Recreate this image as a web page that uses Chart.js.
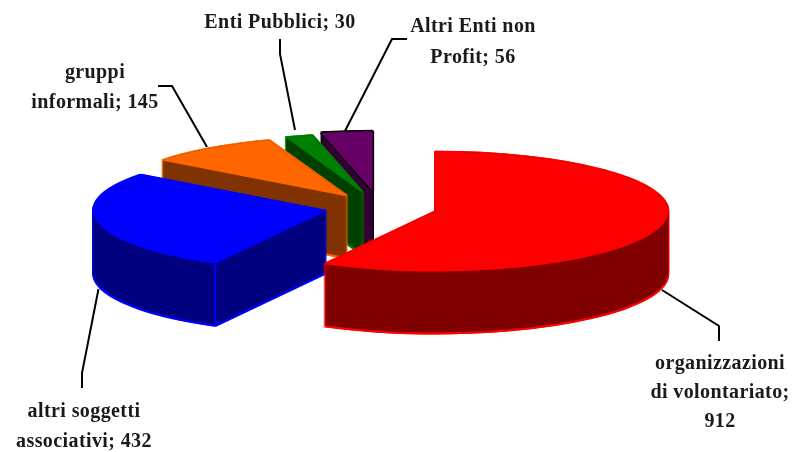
<!DOCTYPE html>
<html><head><meta charset="utf-8">
<style>html,body{margin:0;padding:0;background:#fff}canvas{display:block}</style>
<script src="https://cdn.jsdelivr.net/npm/chart.js@4"></script>
</head><body>
<canvas id="c" width="792" height="452"></canvas>
<script>
const categories = ['organizzazioni\ndi volontariato','altri soggetti\nassociativi','gruppi\ninformali','Enti Pubblici','Altri Enti non\nProfit'];
const values = [912,432,145,30,56];
const valueSeparators = [';\n','; ','; ','; ','; '];
const topColors = ['#FF0000','#0000FF','#FF6600','#008000','#660066'];
const sideColors = ['#800000','#000080','#803300','#004000','#330033'];
const edgeColors = ['#FF0000','#0000FF','#FF6600','#008000','#000000'];
const explode = [57,55,55,58,66];
const drawOrder = [4,3,2,1,0];
const squash = 0.257, depth = 61, pieRadius = 233;
const labelAnchors = [[720,369],[84,417],[95,78],[280,28],[473,32]];
const lineHeights = [29,30,30,0,31];
const leaders = [
  [[662,290],[719,326],[719,341]],
  [[98.5,289],[82,373],[82,388]],
  [[158,86],[172,86],[207,147]],
  [[280,39],[280,54],[295,130]],
  [[407,39],[392,39],[345,131]]
];
const pie3d = {
  id:'pie3d',
  beforeDatasetsDraw(chart){
    const ctx = chart.ctx, arcs = chart.getDatasetMeta(0).data;
    const paint = (el,i,dx,dy,color)=>{
      const h=(el.startAngle+el.endAngle)/2, saved=el.options;
      ctx.save();
      ctx.translate(el.x+dx, el.y+dy);
      ctx.scale(1,squash);
      ctx.translate(-el.x,-el.y);
      ctx.translate(Math.cos(h)*explode[i],Math.sin(h)*explode[i]);
      el.options=Object.assign(Object.create(saved),{backgroundColor:color,borderWidth:0});
      el.draw(ctx,chart.chartArea);
      el.options=saved;
      ctx.restore();
    };
    for(const i of drawOrder){
      const el=arcs[i];
      for(let y=-1;y<=depth+2;y++){ paint(el,i,-1,y,edgeColors[i]); paint(el,i,1,y,edgeColors[i]); }
      for(let y=0;y<=depth;y++) paint(el,i,0,y,sideColors[i]);
      const s=el.startAngle, h=(el.startAngle+el.endAngle)/2;
      if(Math.sin(s)>0 && Math.cos(s)<0){
        const px=el.x+Math.cos(h)*explode[i]+Math.cos(s)*pieRadius;
        const py=el.y+(Math.sin(h)*explode[i]+Math.sin(s)*pieRadius)*squash;
        ctx.save();ctx.strokeStyle=edgeColors[i];ctx.lineWidth=2;ctx.beginPath();ctx.moveTo(px,py);ctx.lineTo(px,py+depth);ctx.stroke();ctx.restore();
      }
      if(edgeColors[i]!==topColors[i]){
        for(const [a,b] of [[-1.5,0],[1.5,0],[0,-1.5],[0,1.5]]) paint(el,i,a,b,edgeColors[i]);
      }
      paint(el,i,0,0,topColors[i]);
    }
    return false;
  },
  afterDraw(chart){
    const ctx=chart.ctx;
    ctx.save();
    ctx.strokeStyle='#000';ctx.lineWidth=2;
    for(const l of leaders){ctx.beginPath();l.forEach((p,j)=>j?ctx.lineTo(p[0],p[1]):ctx.moveTo(p[0],p[1]));ctx.stroke();}
    ctx.fillStyle='#1a1a1a';ctx.textAlign='center';ctx.textBaseline='alphabetic';
    ctx.font='bold 20px "Liberation Serif"';
    ctx.letterSpacing='0.4px';
    categories.forEach((c,i)=>{
      const lines=(c+valueSeparators[i]+values[i]).split('\n');
      lines.forEach((t,j)=>ctx.fillText(t,labelAnchors[i][0],labelAnchors[i][1]+j*lineHeights[i]));
    });
    ctx.restore();
  }
};
new Chart(document.getElementById('c'),{
  type:'pie',
  data:{labels:categories,datasets:[{data:values,backgroundColor:topColors,borderWidth:0}]},
  options:{
    responsive:false,animation:false,radius:pieRadius,
    layout:{padding:{left:0,top:0,right:32,bottom:36}},
    plugins:{legend:{display:false},tooltip:{enabled:false}}
  },
  plugins:[pie3d]
});
</script>
</body></html>
